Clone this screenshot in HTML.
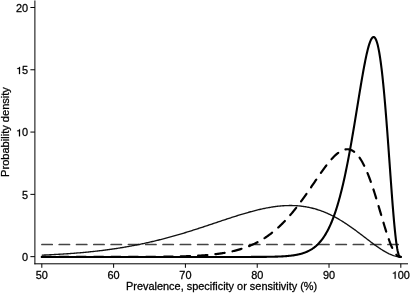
<!DOCTYPE html>
<html><head><meta charset="utf-8"><style>
html,body{margin:0;padding:0;background:#fff;}
body{width:410px;height:293px;overflow:hidden;}
svg{display:block;will-change:transform;}
text{font-family:"Liberation Sans",sans-serif;fill:#000;stroke:#000;stroke-width:0.25px;}
</style></head><body>
<svg width="410" height="293" viewBox="0 0 410 293">
<rect width="410" height="293" fill="#fff"/>
<line x1="34.9" y1="0.5" x2="34.9" y2="264.3" stroke="#000" stroke-width="1"/>
<line x1="34.4" y1="263.8" x2="408" y2="263.8" stroke="#000" stroke-width="1"/>
<line x1="30.4" y1="256.65" x2="34.9" y2="256.65" stroke="#000" stroke-width="1"/>
<text transform="translate(28.20,260.95) scale(1.052,1)" font-size="10.4" text-anchor="end">0</text>
<line x1="30.4" y1="194.36" x2="34.9" y2="194.36" stroke="#000" stroke-width="1"/>
<text transform="translate(28.20,198.66) scale(1.052,1)" font-size="10.4" text-anchor="end">5</text>
<line x1="30.4" y1="132.07" x2="34.9" y2="132.07" stroke="#000" stroke-width="1"/>
<text transform="translate(28.20,136.37) scale(1.052,1)" font-size="10.4" text-anchor="end">&#8199;0</text>
<path transform="translate(16.031,136.37) scale(10.9408,-10.4000)" d="M0.272,0 L0.362,0 L0.362,0.688 L0.298,0.688 C0.282,0.602 0.222,0.562 0.108,0.556 L0.108,0.492 L0.272,0.492 Z" fill="#000" stroke="#000" stroke-width="0.0240"/>
<line x1="30.4" y1="69.78" x2="34.9" y2="69.78" stroke="#000" stroke-width="1"/>
<text transform="translate(28.20,74.08) scale(1.052,1)" font-size="10.4" text-anchor="end">&#8199;5</text>
<path transform="translate(16.031,74.08) scale(10.9408,-10.4000)" d="M0.272,0 L0.362,0 L0.362,0.688 L0.298,0.688 C0.282,0.602 0.222,0.562 0.108,0.556 L0.108,0.492 L0.272,0.492 Z" fill="#000" stroke="#000" stroke-width="0.0240"/>
<line x1="30.4" y1="7.49" x2="34.9" y2="7.49" stroke="#000" stroke-width="1"/>
<text transform="translate(28.20,11.79) scale(1.052,1)" font-size="10.4" text-anchor="end">20</text>
<line x1="41.82" y1="263.8" x2="41.82" y2="267.8" stroke="#000" stroke-width="1"/>
<text transform="translate(41.82,278.70) scale(1.052,1)" font-size="10.4" text-anchor="middle">50</text>
<line x1="113.62" y1="263.8" x2="113.62" y2="267.8" stroke="#000" stroke-width="1"/>
<text transform="translate(113.62,278.70) scale(1.052,1)" font-size="10.4" text-anchor="middle">60</text>
<line x1="185.42" y1="263.8" x2="185.42" y2="267.8" stroke="#000" stroke-width="1"/>
<text transform="translate(185.42,278.70) scale(1.052,1)" font-size="10.4" text-anchor="middle">70</text>
<line x1="257.22" y1="263.8" x2="257.22" y2="267.8" stroke="#000" stroke-width="1"/>
<text transform="translate(257.22,278.70) scale(1.052,1)" font-size="10.4" text-anchor="middle">80</text>
<line x1="329.02" y1="263.8" x2="329.02" y2="267.8" stroke="#000" stroke-width="1"/>
<text transform="translate(329.02,278.70) scale(1.052,1)" font-size="10.4" text-anchor="middle">90</text>
<line x1="400.82" y1="263.8" x2="400.82" y2="267.8" stroke="#000" stroke-width="1"/>
<text transform="translate(400.82,278.70) scale(1.052,1)" font-size="10.4" text-anchor="middle">&#8199;00</text>
<path transform="translate(391.693,278.70) scale(10.9408,-10.4000)" d="M0.272,0 L0.362,0 L0.362,0.688 L0.298,0.688 C0.282,0.602 0.222,0.562 0.108,0.556 L0.108,0.492 L0.272,0.492 Z" fill="#000" stroke="#000" stroke-width="0.0240"/>
<text transform="translate(221.6,290.2) scale(1.052,1)" font-size="10.4" text-anchor="middle">Prevalence, specificity or sensitivity (%)</text>
<text transform="translate(8.5,132.0) rotate(-90) scale(1.065,1)" font-size="10.4" text-anchor="middle">Probability density</text>
<line x1="41.82" y1="244.49" x2="400.82" y2="244.49" stroke="#444" stroke-width="1.7" stroke-linecap="round" stroke-dasharray="10.30 7.00" stroke-dashoffset="-0.10"/>
<path transform="translate(0,-0.15)" d="M41.82,255.29 L42.72,255.25 L43.62,255.21 L44.52,255.17 L45.42,255.13 L46.32,255.09 L47.22,255.05 L48.12,255.01 L49.02,254.97 L49.92,254.92 L50.82,254.88 L51.72,254.83 L52.62,254.79 L53.52,254.74 L54.42,254.69 L55.32,254.64 L56.22,254.59 L57.12,254.54 L58.02,254.49 L58.92,254.44 L59.81,254.38 L60.71,254.33 L61.61,254.27 L62.51,254.22 L63.41,254.16 L64.31,254.10 L65.21,254.04 L66.11,253.98 L67.01,253.92 L67.91,253.86 L68.81,253.80 L69.71,253.73 L70.61,253.67 L71.51,253.60 L72.41,253.53 L73.31,253.46 L74.21,253.39 L75.11,253.32 L76.01,253.25 L76.91,253.18 L77.81,253.10 L78.71,253.03 L79.61,252.95 L80.51,252.87 L81.41,252.79 L82.31,252.71 L83.21,252.63 L84.11,252.55 L85.01,252.47 L85.91,252.38 L86.81,252.29 L87.71,252.21 L88.61,252.12 L89.51,252.03 L90.41,251.93 L91.31,251.84 L92.21,251.75 L93.11,251.65 L94.01,251.55 L94.91,251.45 L95.80,251.35 L96.70,251.25 L97.60,251.15 L98.50,251.04 L99.40,250.94 L100.30,250.83 L101.20,250.72 L102.10,250.61 L103.00,250.50 L103.90,250.38 L104.80,250.27 L105.70,250.15 L106.60,250.03 L107.50,249.91 L108.40,249.79 L109.30,249.67 L110.20,249.54 L111.10,249.41 L112.00,249.29 L112.90,249.16 L113.80,249.03 L114.70,248.89 L115.60,248.76 L116.50,248.62 L117.40,248.48 L118.30,248.34 L119.20,248.20 L120.10,248.06 L121.00,247.91 L121.90,247.77 L122.80,247.62 L123.70,247.47 L124.60,247.31 L125.50,247.16 L126.40,247.00 L127.30,246.85 L128.20,246.69 L129.10,246.53 L130.00,246.36 L130.90,246.20 L131.79,246.03 L132.69,245.86 L133.59,245.69 L134.49,245.52 L135.39,245.35 L136.29,245.17 L137.19,244.99 L138.09,244.81 L138.99,244.63 L139.89,244.45 L140.79,244.26 L141.69,244.07 L142.59,243.89 L143.49,243.69 L144.39,243.50 L145.29,243.31 L146.19,243.11 L147.09,242.91 L147.99,242.71 L148.89,242.51 L149.79,242.30 L150.69,242.10 L151.59,241.89 L152.49,241.68 L153.39,241.47 L154.29,241.25 L155.19,241.04 L156.09,240.82 L156.99,240.60 L157.89,240.38 L158.79,240.15 L159.69,239.93 L160.59,239.70 L161.49,239.47 L162.39,239.24 L163.29,239.01 L164.19,238.77 L165.09,238.54 L165.99,238.30 L166.89,238.06 L167.78,237.82 L168.68,237.57 L169.58,237.33 L170.48,237.08 L171.38,236.83 L172.28,236.58 L173.18,236.33 L174.08,236.08 L174.98,235.82 L175.88,235.56 L176.78,235.30 L177.68,235.04 L178.58,234.78 L179.48,234.52 L180.38,234.25 L181.28,233.98 L182.18,233.72 L183.08,233.45 L183.98,233.17 L184.88,232.90 L185.78,232.63 L186.68,232.35 L187.58,232.07 L188.48,231.79 L189.38,231.52 L190.28,231.23 L191.18,230.95 L192.08,230.67 L192.98,230.38 L193.88,230.10 L194.78,229.81 L195.68,229.52 L196.58,229.23 L197.48,228.94 L198.38,228.65 L199.28,228.36 L200.18,228.07 L201.08,227.77 L201.98,227.48 L202.88,227.18 L203.77,226.89 L204.67,226.59 L205.57,226.29 L206.47,225.99 L207.37,225.69 L208.27,225.39 L209.17,225.10 L210.07,224.79 L210.97,224.49 L211.87,224.19 L212.77,223.89 L213.67,223.59 L214.57,223.29 L215.47,222.99 L216.37,222.69 L217.27,222.39 L218.17,222.09 L219.07,221.78 L219.97,221.48 L220.87,221.18 L221.77,220.88 L222.67,220.58 L223.57,220.28 L224.47,219.99 L225.37,219.69 L226.27,219.39 L227.17,219.09 L228.07,218.80 L228.97,218.50 L229.87,218.21 L230.77,217.92 L231.67,217.63 L232.57,217.34 L233.47,217.05 L234.37,216.76 L235.27,216.47 L236.17,216.19 L237.07,215.91 L237.97,215.63 L238.87,215.35 L239.76,215.07 L240.66,214.79 L241.56,214.52 L242.46,214.25 L243.36,213.98 L244.26,213.72 L245.16,213.45 L246.06,213.19 L246.96,212.93 L247.86,212.68 L248.76,212.42 L249.66,212.17 L250.56,211.92 L251.46,211.68 L252.36,211.44 L253.26,211.20 L254.16,210.97 L255.06,210.74 L255.96,210.51 L256.86,210.29 L257.76,210.07 L258.66,209.85 L259.56,209.64 L260.46,209.43 L261.36,209.23 L262.26,209.03 L263.16,208.84 L264.06,208.65 L264.96,208.47 L265.86,208.29 L266.76,208.11 L267.66,207.94 L268.56,207.78 L269.46,207.62 L270.36,207.46 L271.26,207.32 L272.16,207.17 L273.06,207.04 L273.96,206.91 L274.86,206.78 L275.75,206.66 L276.65,206.55 L277.55,206.44 L278.45,206.34 L279.35,206.25 L280.25,206.16 L281.15,206.08 L282.05,206.01 L282.95,205.94 L283.85,205.88 L284.75,205.83 L285.65,205.79 L286.55,205.75 L287.45,205.72 L288.35,205.70 L289.25,205.69 L290.15,205.68 L291.05,205.68 L291.95,205.69 L292.85,205.71 L293.75,205.74 L294.65,205.77 L295.55,205.82 L296.45,205.87 L297.35,205.93 L298.25,206.00 L299.15,206.08 L300.05,206.17 L300.95,206.27 L301.85,206.37 L302.75,206.49 L303.65,206.61 L304.55,206.75 L305.45,206.89 L306.35,207.04 L307.25,207.21 L308.15,207.38 L309.05,207.56 L309.95,207.76 L310.85,207.96 L311.74,208.17 L312.64,208.40 L313.54,208.63 L314.44,208.87 L315.34,209.12 L316.24,209.39 L317.14,209.66 L318.04,209.95 L318.94,210.24 L319.84,210.55 L320.74,210.86 L321.64,211.19 L322.54,211.52 L323.44,211.87 L324.34,212.23 L325.24,212.60 L326.14,212.97 L327.04,213.36 L327.94,213.76 L328.84,214.17 L329.74,214.59 L330.64,215.02 L331.54,215.46 L332.44,215.91 L333.34,216.37 L334.24,216.84 L335.14,217.32 L336.04,217.81 L336.94,218.30 L337.84,218.81 L338.74,219.33 L339.64,219.86 L340.54,220.40 L341.44,220.94 L342.34,221.50 L343.24,222.06 L344.14,222.63 L345.04,223.21 L345.94,223.80 L346.84,224.39 L347.73,225.00 L348.63,225.61 L349.53,226.23 L350.43,226.85 L351.33,227.49 L352.23,228.12 L353.13,228.77 L354.03,229.42 L354.93,230.07 L355.83,230.73 L356.73,231.40 L357.63,232.07 L358.53,232.74 L359.43,233.42 L360.33,234.10 L361.23,234.78 L362.13,235.47 L363.03,236.16 L363.93,236.84 L364.83,237.53 L365.73,238.22 L366.63,238.91 L367.53,239.60 L368.43,240.28 L369.33,240.97 L370.23,241.65 L371.13,242.33 L372.03,243.00 L372.93,243.67 L373.83,244.33 L374.73,244.99 L375.63,245.64 L376.53,246.28 L377.43,246.92 L378.33,247.54 L379.23,248.15 L380.13,248.76 L381.03,249.35 L381.93,249.92 L382.83,250.49 L383.72,251.03 L384.62,251.56 L385.52,252.08 L386.42,252.57 L387.32,253.05 L388.22,253.50 L389.12,253.94 L390.02,254.35 L390.92,254.73 L391.82,255.09 L392.72,255.42 L393.62,255.73 L394.52,256.00 L395.42,256.24 L396.32,256.45 L397.22,256.63 L398.12,256.77 L399.02,256.87 L399.92,256.93 L400.82,256.95" fill="none" stroke="#111" stroke-width="1.35" stroke-linejoin="round"/>
<path d="M41.82,256.95 L42.72,256.95 L43.62,256.95 L44.52,256.95 L45.42,256.95 L46.32,256.95 L47.22,256.95 L48.12,256.95 L49.02,256.95 L49.92,256.95 L50.82,256.95 L51.72,256.95 L52.62,256.95 L53.52,256.95 L54.42,256.95 L55.32,256.95 L56.22,256.95 L57.12,256.95 L58.02,256.95 L58.92,256.95 L59.81,256.95 L60.71,256.95 L61.61,256.95 L62.51,256.95 L63.41,256.95 L64.31,256.95 L65.21,256.95 L66.11,256.95 L67.01,256.95 L67.91,256.95 L68.81,256.95 L69.71,256.95 L70.61,256.95 L71.51,256.95 L72.41,256.95 L73.31,256.95 L74.21,256.95 L75.11,256.95 L76.01,256.95 L76.91,256.95 L77.81,256.95 L78.71,256.95 L79.61,256.95 L80.51,256.95 L81.41,256.95 L82.31,256.95 L83.21,256.95 L84.11,256.95 L85.01,256.95 L85.91,256.95 L86.81,256.95 L87.71,256.95 L88.61,256.95 L89.51,256.95 L90.41,256.95 L91.31,256.95 L92.21,256.95 L93.11,256.95 L94.01,256.95 L94.91,256.95 L95.80,256.95 L96.70,256.95 L97.60,256.95 L98.50,256.94 L99.40,256.94 L100.30,256.94 L101.20,256.94 L102.10,256.94 L103.00,256.94 L103.90,256.94 L104.80,256.94 L105.70,256.94 L106.60,256.94 L107.50,256.94 L108.40,256.94 L109.30,256.94 L110.20,256.94 L111.10,256.94 L112.00,256.94 L112.90,256.94 L113.80,256.94 L114.70,256.94 L115.60,256.94 L116.50,256.93 L117.40,256.93 L118.30,256.93 L119.20,256.93 L120.10,256.93 L121.00,256.93 L121.90,256.93 L122.80,256.93 L123.70,256.93 L124.60,256.92 L125.50,256.92 L126.40,256.92 L127.30,256.92 L128.20,256.92 L129.10,256.92 L130.00,256.91 L130.90,256.91 L131.79,256.91 L132.69,256.91 L133.59,256.91 L134.49,256.90 L135.39,256.90 L136.29,256.90 L137.19,256.90 L138.09,256.89 L138.99,256.89 L139.89,256.89 L140.79,256.88 L141.69,256.88 L142.59,256.88 L143.49,256.87 L144.39,256.87 L145.29,256.87 L146.19,256.86 L147.09,256.86 L147.99,256.85 L148.89,256.85 L149.79,256.84 L150.69,256.84 L151.59,256.83 L152.49,256.82 L153.39,256.82 L154.29,256.81 L155.19,256.80 L156.09,256.80 L156.99,256.79 L157.89,256.78 L158.79,256.77 L159.69,256.76 L160.59,256.76 L161.49,256.75 L162.39,256.74 L163.29,256.73 L164.19,256.71 L165.09,256.70 L165.99,256.69 L166.89,256.68 L167.78,256.67 L168.68,256.65 L169.58,256.64 L170.48,256.62 L171.38,256.61 L172.28,256.59 L173.18,256.57 L174.08,256.56 L174.98,256.54 L175.88,256.52 L176.78,256.50 L177.68,256.48 L178.58,256.46 L179.48,256.43 L180.38,256.41 L181.28,256.39 L182.18,256.36 L183.08,256.33 L183.98,256.31 L184.88,256.28 L185.78,256.25 L186.68,256.21 L187.58,256.18 L188.48,256.15 L189.38,256.11 L190.28,256.08 L191.18,256.04 L192.08,256.00 L192.98,255.95 L193.88,255.91 L194.78,255.87 L195.68,255.82 L196.58,255.77 L197.48,255.72 L198.38,255.67 L199.28,255.61 L200.18,255.55 L201.08,255.50 L201.98,255.43 L202.88,255.37 L203.77,255.30 L204.67,255.23 L205.57,255.16 L206.47,255.09 L207.37,255.01 L208.27,254.93 L209.17,254.85 L210.07,254.76 L210.97,254.67 L211.87,254.58 L212.77,254.48 L213.67,254.38 L214.57,254.28 L215.47,254.17 L216.37,254.06 L217.27,253.95 L218.17,253.83 L219.07,253.71 L219.97,253.58 L220.87,253.45 L221.77,253.31 L222.67,253.17 L223.57,253.02 L224.47,252.87 L225.37,252.71 L226.27,252.55 L227.17,252.38 L228.07,252.21 L228.97,252.03 L229.87,251.84 L230.77,251.65 L231.67,251.45 L232.57,251.25 L233.47,251.04 L234.37,250.82 L235.27,250.60 L236.17,250.36 L237.07,250.12 L237.97,249.88 L238.87,249.62 L239.76,249.36 L240.66,249.09 L241.56,248.81 L242.46,248.52 L243.36,248.22 L244.26,247.91 L245.16,247.60 L246.06,247.27 L246.96,246.93 L247.86,246.59 L248.76,246.23 L249.66,245.87 L250.56,245.49 L251.46,245.10 L252.36,244.71 L253.26,244.30 L254.16,243.87 L255.06,243.44 L255.96,243.00 L256.86,242.54 L257.76,242.07 L258.66,241.59 L259.56,241.09 L260.46,240.58 L261.36,240.06 L262.26,239.53 L263.16,238.98 L264.06,238.41 L264.96,237.84 L265.86,237.24 L266.76,236.64 L267.66,236.01 L268.56,235.38 L269.46,234.73 L270.36,234.06 L271.26,233.38 L272.16,232.68 L273.06,231.96 L273.96,231.23 L274.86,230.48 L275.75,229.72 L276.65,228.94 L277.55,228.14 L278.45,227.33 L279.35,226.50 L280.25,225.65 L281.15,224.79 L282.05,223.90 L282.95,223.01 L283.85,222.09 L284.75,221.16 L285.65,220.21 L286.55,219.24 L287.45,218.26 L288.35,217.26 L289.25,216.24 L290.15,215.20 L291.05,214.15 L291.95,213.09 L292.85,212.00 L293.75,210.90 L294.65,209.79 L295.55,208.66 L296.45,207.51 L297.35,206.35 L298.25,205.18 L299.15,203.99 L300.05,202.79 L300.95,201.57 L301.85,200.34 L302.75,199.11 L303.65,197.85 L304.55,196.59 L305.45,195.32 L306.35,194.04 L307.25,192.76 L308.15,191.46 L309.05,190.16 L309.95,188.85 L310.85,187.54 L311.74,186.22 L312.64,184.90 L313.54,183.58 L314.44,182.26 L315.34,180.94 L316.24,179.63 L317.14,178.31 L318.04,177.00 L318.94,175.70 L319.84,174.41 L320.74,173.13 L321.64,171.85 L322.54,170.59 L323.44,169.35 L324.34,168.12 L325.24,166.91 L326.14,165.72 L327.04,164.56 L327.94,163.42 L328.84,162.30 L329.74,161.21 L330.64,160.16 L331.54,159.14 L332.44,158.15 L333.34,157.20 L334.24,156.30 L335.14,155.43 L336.04,154.61 L336.94,153.84 L337.84,153.12 L338.74,152.45 L339.64,151.84 L340.54,151.28 L341.44,150.79 L342.34,150.36 L343.24,150.00 L344.14,149.70 L345.04,149.48 L345.94,149.33 L346.84,149.25 L347.73,149.26 L348.63,149.34 L349.53,149.51 L350.43,149.77 L351.33,150.12 L352.23,150.55 L353.13,151.08 L354.03,151.70 L354.93,152.42 L355.83,153.24 L356.73,154.16 L357.63,155.17 L358.53,156.29 L359.43,157.52 L360.33,158.84 L361.23,160.27 L362.13,161.81 L363.03,163.45 L363.93,165.19 L364.83,167.04 L365.73,168.98 L366.63,171.03 L367.53,173.18 L368.43,175.42 L369.33,177.75 L370.23,180.18 L371.13,182.69 L372.03,185.29 L372.93,187.96 L373.83,190.70 L374.73,193.51 L375.63,196.38 L376.53,199.31 L377.43,202.28 L378.33,205.28 L379.23,208.32 L380.13,211.37 L381.03,214.43 L381.93,217.48 L382.83,220.52 L383.72,223.53 L384.62,226.50 L385.52,229.42 L386.42,232.27 L387.32,235.03 L388.22,237.70 L389.12,240.25 L390.02,242.68 L390.92,244.95 L391.82,247.07 L392.72,249.01 L393.62,250.76 L394.52,252.31 L395.42,253.64 L396.32,254.75 L397.22,255.62 L398.12,256.27 L399.02,256.69 L399.92,256.90 L400.82,256.95" fill="none" stroke="#000" stroke-width="2.2" stroke-linecap="round" stroke-linejoin="round" stroke-dasharray="9.350 8.015" stroke-dashoffset="-0.015"/>
<path d="M41.82,256.95 L42.27,256.95 L42.72,256.95 L43.17,256.95 L43.62,256.95 L44.07,256.95 L44.52,256.95 L44.97,256.95 L45.41,256.95 L45.86,256.95 L46.31,256.95 L46.76,256.95 L47.21,256.95 L47.66,256.95 L48.11,256.95 L48.56,256.95 L49.01,256.95 L49.46,256.95 L49.91,256.95 L50.36,256.95 L50.81,256.95 L51.26,256.95 L51.70,256.95 L52.15,256.95 L52.60,256.95 L53.05,256.95 L53.50,256.95 L53.95,256.95 L54.40,256.95 L54.85,256.95 L55.30,256.95 L55.75,256.95 L56.20,256.95 L56.65,256.95 L57.10,256.95 L57.55,256.95 L58.00,256.95 L58.44,256.95 L58.89,256.95 L59.34,256.95 L59.79,256.95 L60.24,256.95 L60.69,256.95 L61.14,256.95 L61.59,256.95 L62.04,256.95 L62.49,256.95 L62.94,256.95 L63.39,256.95 L63.84,256.95 L64.29,256.95 L64.73,256.95 L65.18,256.95 L65.63,256.95 L66.08,256.95 L66.53,256.95 L66.98,256.95 L67.43,256.95 L67.88,256.95 L68.33,256.95 L68.78,256.95 L69.23,256.95 L69.68,256.95 L70.13,256.95 L70.58,256.95 L71.03,256.95 L71.47,256.95 L71.92,256.95 L72.37,256.95 L72.82,256.95 L73.27,256.95 L73.72,256.95 L74.17,256.95 L74.62,256.95 L75.07,256.95 L75.52,256.95 L75.97,256.95 L76.42,256.95 L76.87,256.95 L77.32,256.95 L77.76,256.95 L78.21,256.95 L78.66,256.95 L79.11,256.95 L79.56,256.95 L80.01,256.95 L80.46,256.95 L80.91,256.95 L81.36,256.95 L81.81,256.95 L82.26,256.95 L82.71,256.95 L83.16,256.95 L83.61,256.95 L84.06,256.95 L84.50,256.95 L84.95,256.95 L85.40,256.95 L85.85,256.95 L86.30,256.95 L86.75,256.95 L87.20,256.95 L87.65,256.95 L88.10,256.95 L88.55,256.95 L89.00,256.95 L89.45,256.95 L89.90,256.95 L90.35,256.95 L90.79,256.95 L91.24,256.95 L91.69,256.95 L92.14,256.95 L92.59,256.95 L93.04,256.95 L93.49,256.95 L93.94,256.95 L94.39,256.95 L94.84,256.95 L95.29,256.95 L95.74,256.95 L96.19,256.95 L96.64,256.95 L97.09,256.95 L97.53,256.95 L97.98,256.95 L98.43,256.95 L98.88,256.95 L99.33,256.95 L99.78,256.95 L100.23,256.95 L100.68,256.95 L101.13,256.95 L101.58,256.95 L102.03,256.95 L102.48,256.95 L102.93,256.95 L103.38,256.95 L103.83,256.95 L104.27,256.95 L104.72,256.95 L105.17,256.95 L105.62,256.95 L106.07,256.95 L106.52,256.95 L106.97,256.95 L107.42,256.95 L107.87,256.95 L108.32,256.95 L108.77,256.95 L109.22,256.95 L109.67,256.95 L110.12,256.95 L110.56,256.95 L111.01,256.95 L111.46,256.95 L111.91,256.95 L112.36,256.95 L112.81,256.95 L113.26,256.95 L113.71,256.95 L114.16,256.95 L114.61,256.95 L115.06,256.95 L115.51,256.95 L115.96,256.95 L116.41,256.95 L116.86,256.95 L117.30,256.95 L117.75,256.95 L118.20,256.95 L118.65,256.95 L119.10,256.95 L119.55,256.95 L120.00,256.95 L120.45,256.95 L120.90,256.95 L121.35,256.95 L121.80,256.95 L122.25,256.95 L122.70,256.95 L123.15,256.95 L123.59,256.95 L124.04,256.95 L124.49,256.95 L124.94,256.95 L125.39,256.95 L125.84,256.95 L126.29,256.95 L126.74,256.95 L127.19,256.95 L127.64,256.95 L128.09,256.95 L128.54,256.95 L128.99,256.95 L129.44,256.95 L129.89,256.95 L130.33,256.95 L130.78,256.95 L131.23,256.95 L131.68,256.95 L132.13,256.95 L132.58,256.95 L133.03,256.95 L133.48,256.95 L133.93,256.95 L134.38,256.95 L134.83,256.95 L135.28,256.95 L135.73,256.95 L136.18,256.95 L136.62,256.95 L137.07,256.95 L137.52,256.95 L137.97,256.95 L138.42,256.95 L138.87,256.95 L139.32,256.95 L139.77,256.95 L140.22,256.95 L140.67,256.95 L141.12,256.95 L141.57,256.95 L142.02,256.95 L142.47,256.95 L142.92,256.95 L143.36,256.95 L143.81,256.95 L144.26,256.95 L144.71,256.95 L145.16,256.95 L145.61,256.95 L146.06,256.95 L146.51,256.95 L146.96,256.95 L147.41,256.95 L147.86,256.95 L148.31,256.95 L148.76,256.95 L149.21,256.95 L149.65,256.95 L150.10,256.95 L150.55,256.95 L151.00,256.95 L151.45,256.95 L151.90,256.95 L152.35,256.95 L152.80,256.95 L153.25,256.95 L153.70,256.95 L154.15,256.95 L154.60,256.95 L155.05,256.95 L155.50,256.95 L155.95,256.95 L156.39,256.95 L156.84,256.95 L157.29,256.95 L157.74,256.95 L158.19,256.95 L158.64,256.95 L159.09,256.95 L159.54,256.95 L159.99,256.95 L160.44,256.95 L160.89,256.95 L161.34,256.95 L161.79,256.95 L162.24,256.95 L162.68,256.95 L163.13,256.95 L163.58,256.95 L164.03,256.95 L164.48,256.95 L164.93,256.95 L165.38,256.95 L165.83,256.95 L166.28,256.95 L166.73,256.95 L167.18,256.95 L167.63,256.95 L168.08,256.95 L168.53,256.95 L168.98,256.95 L169.42,256.95 L169.87,256.95 L170.32,256.95 L170.77,256.95 L171.22,256.95 L171.67,256.95 L172.12,256.95 L172.57,256.95 L173.02,256.95 L173.47,256.95 L173.92,256.95 L174.37,256.95 L174.82,256.95 L175.27,256.95 L175.71,256.95 L176.16,256.95 L176.61,256.95 L177.06,256.95 L177.51,256.95 L177.96,256.95 L178.41,256.95 L178.86,256.95 L179.31,256.95 L179.76,256.95 L180.21,256.95 L180.66,256.95 L181.11,256.95 L181.56,256.95 L182.01,256.95 L182.45,256.95 L182.90,256.95 L183.35,256.95 L183.80,256.95 L184.25,256.95 L184.70,256.95 L185.15,256.95 L185.60,256.95 L186.05,256.95 L186.50,256.95 L186.95,256.95 L187.40,256.95 L187.85,256.95 L188.30,256.95 L188.74,256.95 L189.19,256.95 L189.64,256.95 L190.09,256.95 L190.54,256.95 L190.99,256.95 L191.44,256.95 L191.89,256.95 L192.34,256.95 L192.79,256.95 L193.24,256.95 L193.69,256.95 L194.14,256.95 L194.59,256.95 L195.04,256.95 L195.48,256.95 L195.93,256.95 L196.38,256.95 L196.83,256.95 L197.28,256.95 L197.73,256.95 L198.18,256.95 L198.63,256.95 L199.08,256.95 L199.53,256.95 L199.98,256.95 L200.43,256.95 L200.88,256.95 L201.33,256.95 L201.77,256.95 L202.22,256.95 L202.67,256.95 L203.12,256.95 L203.57,256.95 L204.02,256.95 L204.47,256.95 L204.92,256.95 L205.37,256.95 L205.82,256.95 L206.27,256.95 L206.72,256.95 L207.17,256.95 L207.62,256.95 L208.07,256.95 L208.51,256.95 L208.96,256.95 L209.41,256.95 L209.86,256.95 L210.31,256.95 L210.76,256.95 L211.21,256.95 L211.66,256.95 L212.11,256.95 L212.56,256.95 L213.01,256.95 L213.46,256.95 L213.91,256.95 L214.36,256.95 L214.80,256.95 L215.25,256.95 L215.70,256.95 L216.15,256.95 L216.60,256.95 L217.05,256.95 L217.50,256.95 L217.95,256.95 L218.40,256.95 L218.85,256.95 L219.30,256.95 L219.75,256.95 L220.20,256.95 L220.65,256.95 L221.10,256.95 L221.54,256.95 L221.99,256.95 L222.44,256.95 L222.89,256.95 L223.34,256.95 L223.79,256.95 L224.24,256.95 L224.69,256.95 L225.14,256.95 L225.59,256.95 L226.04,256.95 L226.49,256.95 L226.94,256.95 L227.39,256.95 L227.84,256.95 L228.28,256.95 L228.73,256.95 L229.18,256.95 L229.63,256.95 L230.08,256.95 L230.53,256.95 L230.98,256.95 L231.43,256.95 L231.88,256.95 L232.33,256.95 L232.78,256.95 L233.23,256.95 L233.68,256.95 L234.13,256.95 L234.57,256.95 L235.02,256.95 L235.47,256.95 L235.92,256.95 L236.37,256.94 L236.82,256.94 L237.27,256.94 L237.72,256.94 L238.17,256.94 L238.62,256.94 L239.07,256.94 L239.52,256.94 L239.97,256.94 L240.42,256.94 L240.87,256.94 L241.31,256.94 L241.76,256.94 L242.21,256.94 L242.66,256.94 L243.11,256.94 L243.56,256.94 L244.01,256.94 L244.46,256.94 L244.91,256.94 L245.36,256.94 L245.81,256.94 L246.26,256.94 L246.71,256.93 L247.16,256.93 L247.60,256.93 L248.05,256.93 L248.50,256.93 L248.95,256.93 L249.40,256.93 L249.85,256.93 L250.30,256.93 L250.75,256.93 L251.20,256.92 L251.65,256.92 L252.10,256.92 L252.55,256.92 L253.00,256.92 L253.45,256.92 L253.90,256.92 L254.34,256.91 L254.79,256.91 L255.24,256.91 L255.69,256.91 L256.14,256.91 L256.59,256.91 L257.04,256.90 L257.49,256.90 L257.94,256.90 L258.39,256.90 L258.84,256.89 L259.29,256.89 L259.74,256.89 L260.19,256.89 L260.63,256.88 L261.08,256.88 L261.53,256.88 L261.98,256.87 L262.43,256.87 L262.88,256.87 L263.33,256.86 L263.78,256.86 L264.23,256.85 L264.68,256.85 L265.13,256.84 L265.58,256.84 L266.03,256.83 L266.48,256.83 L266.93,256.82 L267.37,256.82 L267.82,256.81 L268.27,256.80 L268.72,256.80 L269.17,256.79 L269.62,256.78 L270.07,256.77 L270.52,256.77 L270.97,256.76 L271.42,256.75 L271.87,256.74 L272.32,256.73 L272.77,256.72 L273.22,256.71 L273.66,256.70 L274.11,256.69 L274.56,256.68 L275.01,256.66 L275.46,256.65 L275.91,256.64 L276.36,256.62 L276.81,256.61 L277.26,256.59 L277.71,256.58 L278.16,256.56 L278.61,256.55 L279.06,256.53 L279.51,256.51 L279.96,256.49 L280.40,256.47 L280.85,256.45 L281.30,256.43 L281.75,256.40 L282.20,256.38 L282.65,256.36 L283.10,256.33 L283.55,256.30 L284.00,256.27 L284.45,256.25 L284.90,256.21 L285.35,256.18 L285.80,256.15 L286.25,256.12 L286.69,256.08 L287.14,256.04 L287.59,256.00 L288.04,255.96 L288.49,255.92 L288.94,255.88 L289.39,255.83 L289.84,255.79 L290.29,255.74 L290.74,255.69 L291.19,255.63 L291.64,255.58 L292.09,255.52 L292.54,255.46 L292.99,255.40 L293.43,255.34 L293.88,255.27 L294.33,255.20 L294.78,255.13 L295.23,255.05 L295.68,254.98 L296.13,254.90 L296.58,254.81 L297.03,254.73 L297.48,254.64 L297.93,254.54 L298.38,254.44 L298.83,254.34 L299.28,254.24 L299.72,254.13 L300.17,254.02 L300.62,253.90 L301.07,253.78 L301.52,253.65 L301.97,253.52 L302.42,253.39 L302.87,253.25 L303.32,253.10 L303.77,252.95 L304.22,252.79 L304.67,252.63 L305.12,252.46 L305.57,252.29 L306.02,252.11 L306.46,251.92 L306.91,251.73 L307.36,251.53 L307.81,251.32 L308.26,251.11 L308.71,250.88 L309.16,250.65 L309.61,250.42 L310.06,250.17 L310.51,249.91 L310.96,249.65 L311.41,249.38 L311.86,249.09 L312.31,248.80 L312.75,248.50 L313.20,248.19 L313.65,247.86 L314.10,247.53 L314.55,247.19 L315.00,246.83 L315.45,246.46 L315.90,246.08 L316.35,245.69 L316.80,245.28 L317.25,244.86 L317.70,244.43 L318.15,243.98 L318.60,243.52 L319.05,243.05 L319.49,242.55 L319.94,242.05 L320.39,241.53 L320.84,240.99 L321.29,240.43 L321.74,239.86 L322.19,239.27 L322.64,238.66 L323.09,238.03 L323.54,237.39 L323.99,236.72 L324.44,236.04 L324.89,235.33 L325.34,234.60 L325.78,233.86 L326.23,233.09 L326.68,232.30 L327.13,231.48 L327.58,230.64 L328.03,229.78 L328.48,228.90 L328.93,227.98 L329.38,227.05 L329.83,226.09 L330.28,225.10 L330.73,224.08 L331.18,223.04 L331.63,221.97 L332.08,220.87 L332.52,219.75 L332.97,218.59 L333.42,217.41 L333.87,216.19 L334.32,214.94 L334.77,213.66 L335.22,212.36 L335.67,211.01 L336.12,209.64 L336.57,208.23 L337.02,206.79 L337.47,205.32 L337.92,203.81 L338.37,202.27 L338.81,200.69 L339.26,199.08 L339.71,197.43 L340.16,195.75 L340.61,194.03 L341.06,192.28 L341.51,190.49 L341.96,188.66 L342.41,186.80 L342.86,184.89 L343.31,182.96 L343.76,180.98 L344.21,178.97 L344.66,176.93 L345.11,174.85 L345.55,172.73 L346.00,170.57 L346.45,168.38 L346.90,166.16 L347.35,163.90 L347.80,161.60 L348.25,159.27 L348.70,156.91 L349.15,154.52 L349.60,152.09 L350.05,149.63 L350.50,147.15 L350.95,144.63 L351.40,142.09 L351.85,139.52 L352.29,136.92 L352.74,134.30 L353.19,131.66 L353.64,129.00 L354.09,126.32 L354.54,123.62 L354.99,120.90 L355.44,118.17 L355.89,115.43 L356.34,112.69 L356.79,109.93 L357.24,107.17 L357.69,104.41 L358.14,101.65 L358.58,98.89 L359.03,96.14 L359.48,93.40 L359.93,90.68 L360.38,87.97 L360.83,85.28 L361.28,82.62 L361.73,79.98 L362.18,77.38 L362.63,74.81 L363.08,72.28 L363.53,69.80 L363.98,67.37 L364.43,64.99 L364.88,62.68 L365.32,60.42 L365.77,58.24 L366.22,56.13 L366.67,54.10 L367.12,52.15 L367.57,50.29 L368.02,48.53 L368.47,46.88 L368.92,45.33 L369.37,43.89 L369.82,42.57 L370.27,41.38 L370.72,40.32 L371.17,39.40 L371.61,38.62 L372.06,37.99 L372.51,37.51 L372.96,37.19 L373.41,37.05 L373.86,37.07 L374.31,37.27 L374.76,37.65 L375.21,38.22 L375.66,38.99 L376.11,39.95 L376.56,41.11 L377.01,42.48 L377.46,44.06 L377.91,45.86 L378.35,47.87 L378.80,50.10 L379.25,52.54 L379.70,55.22 L380.15,58.11 L380.60,61.23 L381.05,64.57 L381.50,68.14 L381.95,71.92 L382.40,75.92 L382.85,80.13 L383.30,84.56 L383.75,89.18 L384.20,94.01 L384.64,99.02 L385.09,104.21 L385.54,109.58 L385.99,115.10 L386.44,120.77 L386.89,126.58 L387.34,132.51 L387.79,138.53 L388.24,144.65 L388.69,150.83 L389.14,157.06 L389.59,163.32 L390.04,169.57 L390.49,175.81 L390.94,182.01 L391.38,188.13 L391.83,194.15 L392.28,200.05 L392.73,205.80 L393.18,211.36 L393.63,216.71 L394.08,221.82 L394.53,226.66 L394.98,231.21 L395.43,235.44 L395.88,239.32 L396.33,242.83 L396.78,245.96 L397.23,248.68 L397.67,251.00 L398.12,252.91 L398.57,254.42 L399.02,255.53 L399.47,256.29 L399.92,256.73 L400.37,256.92 L400.82,256.95" fill="none" stroke="#000" stroke-width="2.1" stroke-linejoin="round" stroke-linecap="round"/>
</svg>
</body></html>
